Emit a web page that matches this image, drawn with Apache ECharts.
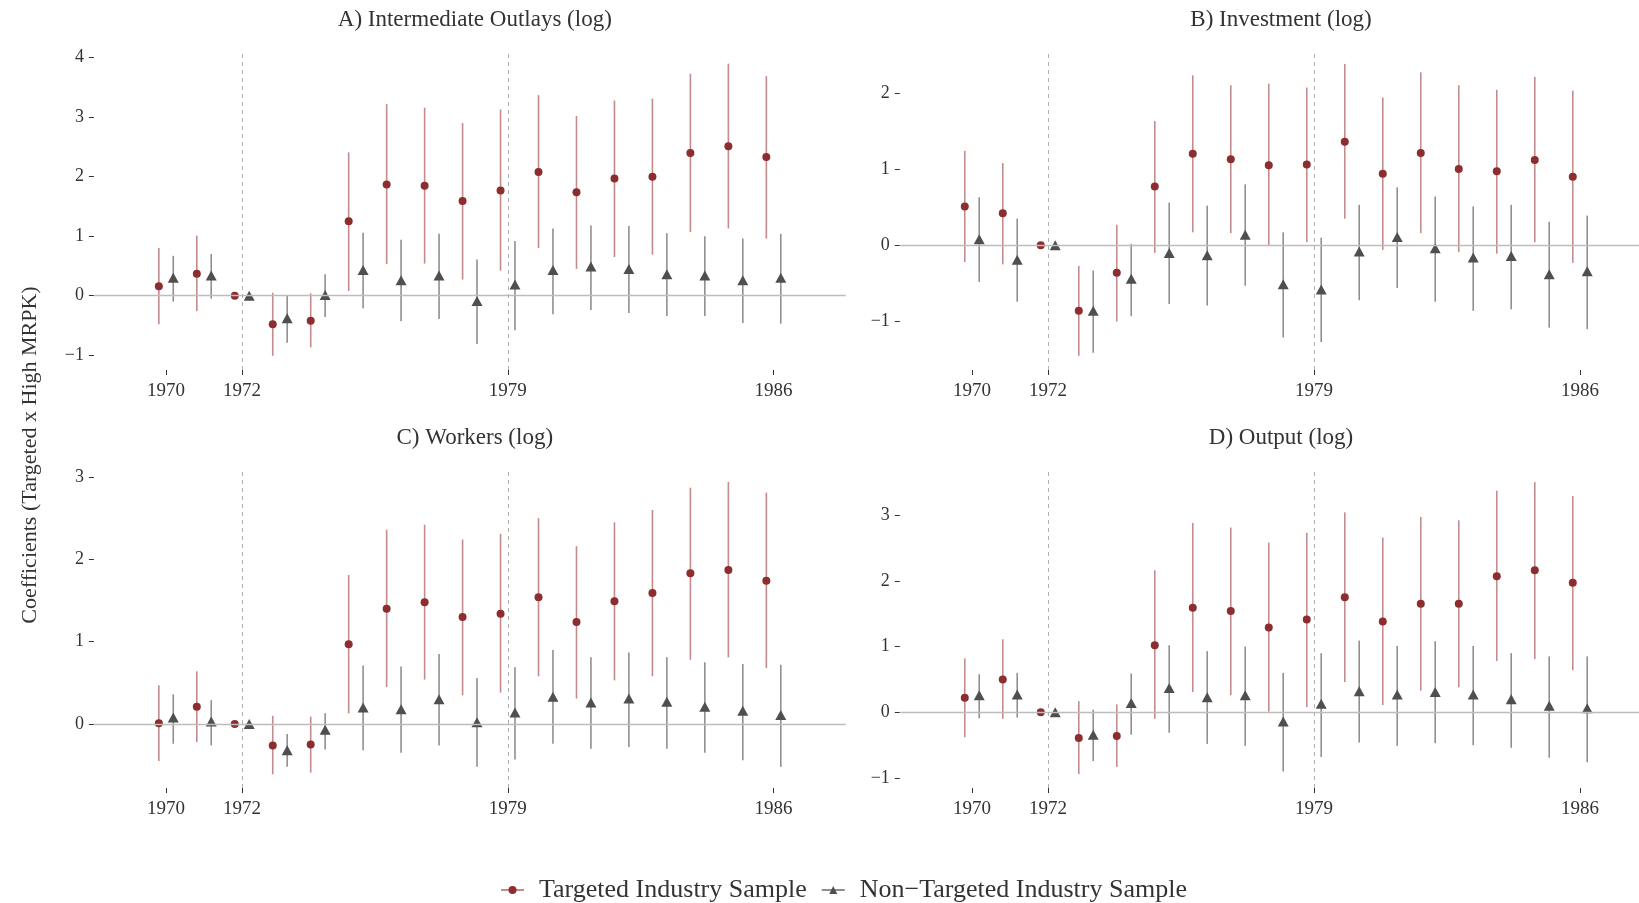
<!DOCTYPE html>
<html>
<head>
<meta charset="utf-8">
<script src="https://cdn.jsdelivr.net/npm/echarts@6/dist/echarts.min.js"></script>
<style>
html,body{margin:0;padding:0;background:#fff;}
#chart{width:1639px;height:903px;}
</style>
</head>
<body>
<div id="chart"></div>
<script>
const years = [1970,1971,1972,1973,1974,1975,1976,1977,1978,1979,1980,1981,1982,1983,1984,1985,1986];
const xTickYears = [1970, 1972, 1979, 1986];
const refYears = [1972, 1979];
const panelTitles = ['A) Intermediate Outlays (log)', 'B) Investment (log)', 'C) Workers (log)', 'D) Output (log)'];
const seriesNames = ['Targeted Industry Sample', 'Non\u2212Targeted Industry Sample'];
const yAxisTitle = 'Coefficients (Targeted x High MRPK)';

const yTicksA = [-1, 0, 1, 2, 3, 4];
const yTicksB = [-1, 0, 1, 2];
const yTicksC = [0, 1, 2, 3];
const yTicksD = [-1, 0, 1, 2, 3];

// Panel A: Intermediate Outlays
const aTargetEst = [0.16, 0.37, 0, -0.48, -0.42, 1.25, 1.87, 1.85, 1.59, 1.77, 2.08, 1.74, 1.97, 2.00, 2.40, 2.51, 2.33];
const aTargetLo  = [-0.48, -0.26, 0, -1.01, -0.87, 0.08, 0.53, 0.54, 0.27, 0.42, 0.80, 0.45, 0.65, 0.69, 1.07, 1.13, 0.96];
const aTargetHi  = [0.80, 1.01, 0, 0.05, 0.04, 2.41, 3.22, 3.16, 2.90, 3.13, 3.37, 3.02, 3.28, 3.31, 3.73, 3.90, 3.69];
const aOtherEst  = [0.30, 0.34, 0, -0.38, 0.01, 0.43, 0.26, 0.34, -0.09, 0.19, 0.43, 0.49, 0.45, 0.36, 0.34, 0.26, 0.30];
const aOtherLo   = [-0.10, -0.05, 0, -0.79, -0.36, -0.21, -0.43, -0.39, -0.81, -0.58, -0.31, -0.24, -0.29, -0.34, -0.34, -0.46, -0.47];
const aOtherHi   = [0.67, 0.70, 0, 0.00, 0.36, 1.06, 0.94, 1.04, 0.61, 0.92, 1.13, 1.18, 1.17, 1.05, 1.00, 0.96, 1.04];

// Panel B: Investment
const bTargetEst = [0.51, 0.42, 0, -0.86, -0.36, 0.77, 1.20, 1.13, 1.05, 1.06, 1.36, 0.94, 1.21, 1.00, 0.97, 1.12, 0.90];
const bTargetLo  = [-0.22, -0.25, 0, -1.45, -1.00, -0.10, 0.17, 0.16, -0.01, 0.04, 0.35, -0.06, 0.16, -0.09, -0.11, 0.04, -0.23];
const bTargetHi  = [1.24, 1.08, 0, -0.27, 0.27, 1.63, 2.23, 2.10, 2.12, 2.07, 2.38, 1.94, 2.27, 2.10, 2.04, 2.21, 2.03];
const bOtherEst  = [0.08, -0.19, 0, -0.86, -0.44, -0.10, -0.13, 0.14, -0.51, -0.58, -0.08, 0.11, -0.04, -0.16, -0.14, -0.38, -0.34];
const bOtherLo   = [-0.48, -0.74, 0, -1.41, -0.93, -0.77, -0.79, -0.53, -1.21, -1.27, -0.72, -0.56, -0.74, -0.86, -0.84, -1.08, -1.10];
const bOtherHi   = [0.63, 0.35, 0, -0.33, 0.02, 0.56, 0.52, 0.80, 0.17, 0.10, 0.53, 0.76, 0.64, 0.51, 0.53, 0.31, 0.39];

// Panel C: Workers
const cTargetEst = [0.01, 0.21, 0, -0.26, -0.25, 0.97, 1.40, 1.48, 1.30, 1.34, 1.54, 1.24, 1.49, 1.59, 1.83, 1.87, 1.74];
const cTargetLo  = [-0.45, -0.22, 0, -0.61, -0.59, 0.13, 0.45, 0.54, 0.35, 0.38, 0.58, 0.31, 0.53, 0.58, 0.78, 0.81, 0.68];
const cTargetHi  = [0.47, 0.64, 0, 0.10, 0.09, 1.81, 2.36, 2.42, 2.24, 2.31, 2.50, 2.16, 2.45, 2.60, 2.87, 2.94, 2.81];
const cOtherEst  = [0.08, 0.03, 0, -0.32, -0.07, 0.20, 0.18, 0.30, 0.02, 0.14, 0.33, 0.26, 0.31, 0.27, 0.21, 0.16, 0.11];
const cOtherLo   = [-0.24, -0.26, 0, -0.52, -0.31, -0.32, -0.35, -0.26, -0.52, -0.43, -0.24, -0.30, -0.28, -0.30, -0.35, -0.44, -0.52];
const cOtherHi   = [0.36, 0.29, 0, -0.12, 0.13, 0.71, 0.70, 0.85, 0.56, 0.69, 0.90, 0.81, 0.87, 0.81, 0.75, 0.73, 0.72];

// Panel D: Output
const dTargetEst = [0.22, 0.50, 0, -0.39, -0.36, 1.02, 1.59, 1.54, 1.29, 1.41, 1.75, 1.38, 1.65, 1.65, 2.07, 2.16, 1.97];
const dTargetLo  = [-0.38, -0.10, 0, -0.94, -0.83, -0.10, 0.31, 0.26, 0.01, 0.08, 0.46, 0.11, 0.33, 0.38, 0.78, 0.81, 0.64];
const dTargetHi  = [0.82, 1.11, 0, 0.17, 0.12, 2.16, 2.88, 2.81, 2.58, 2.73, 3.04, 2.66, 2.97, 2.92, 3.37, 3.50, 3.29];
const dOtherEst  = [0.26, 0.27, 0, -0.34, 0.14, 0.37, 0.23, 0.26, -0.14, 0.13, 0.32, 0.27, 0.31, 0.27, 0.20, 0.10, 0.06];
const dOtherLo   = [-0.09, -0.08, 0, -0.74, -0.34, -0.31, -0.48, -0.51, -0.90, -0.68, -0.46, -0.51, -0.47, -0.50, -0.54, -0.69, -0.76];
const dOtherHi   = [0.58, 0.60, 0, 0.04, 0.59, 1.02, 0.93, 1.00, 0.60, 0.90, 1.09, 1.01, 1.08, 1.01, 0.90, 0.85, 0.85];

// ---- styling / layout ----
const FONT = 'Liberation Serif';
const RED = '#8c2d2f', RED_BAR = '#c28b8c';
const GRAY = '#4f4f4f', GRAY_BAR = '#8f8f8f';
const DODGE = 0.19;
const TEXT = '#333333';

const panels = [
  {t: [aTargetEst, aTargetLo, aTargetHi], o: [aOtherEst, aOtherLo, aOtherHi], ticks: yTicksA, ymin: -1.249, ymax: 4.096,
   grid: {left: 93.9, width: 751.8, top: 52, height: 318}},
  {t: [bTargetEst, bTargetLo, bTargetHi], o: [bOtherEst, bOtherLo, bOtherHi], ticks: yTicksB, ymin: -1.636, ymax: 2.536,
   grid: {left: 899.8, width: 752.4, top: 52, height: 318}},
  {t: [cTargetEst, cTargetLo, cTargetHi], o: [cOtherEst, cOtherLo, cOtherHi], ticks: yTicksC, ymin: -0.777, ymax: 3.085,
   grid: {left: 93.9, width: 751.8, top: 470, height: 318}},
  {t: [dTargetEst, dTargetLo, dTargetHi], o: [dOtherEst, dOtherLo, dOtherHi], ticks: yTicksD, ymin: -1.151, ymax: 3.685,
   grid: {left: 899.8, width: 752.4, top: 470, height: 318}}
];

function fmtNum(v) { return v < 0 ? '\u2212' + Math.abs(v) : String(v); }

function errRender(color) {
  return function (params, api) {
    const x = api.value(0), lo = api.value(1), hi = api.value(2);
    if (lo === hi) return null;
    const p1 = api.coord([x, lo]), p2 = api.coord([x, hi]);
    return {type: 'line', shape: {x1: p1[0], y1: p1[1], x2: p2[0], y2: p2[1]},
            style: {stroke: color, lineWidth: 1.6}};
  };
}

const grids = [], xAxes = [], yAxes = [], series = [], titles = [];
panels.forEach((p, i) => {
  grids.push(Object.assign({containLabel: false, outerBoundsMode: 'none'}, p.grid));
  xAxes.push({
    type: 'value', gridIndex: i, min: 1968.1, max: 1987.9, position: 'bottom',
    axisLine: {show: false, onZero: false}, splitLine: {show: false},
    axisTick: {show: true, length: 5, lineStyle: {color: TEXT, width: 1}, customValues: xTickYears},
    axisLabel: {customValues: xTickYears, fontFamily: FONT, fontSize: 19, color: TEXT, margin: 12, formatter: v => String(v)}
  });
  yAxes.push({
    type: 'value', gridIndex: i, min: p.ymin, max: p.ymax,
    axisLine: {show: false, onZero: false}, splitLine: {show: false},
    axisTick: {show: true, length: 5, lineStyle: {color: TEXT, width: 1}, customValues: p.ticks},
    axisLabel: {customValues: p.ticks, fontFamily: FONT, fontSize: 18, color: TEXT, margin: 10, formatter: fmtNum}
  });
  titles.push({
    text: panelTitles[i], left: p.grid.left + p.grid.width / 2, textAlign: 'center',
    top: p.grid.top - 49,
    textStyle: {fontFamily: FONT, fontSize: 23, fontWeight: 'normal', color: TEXT}
  });
  // reference lines
  series.push({
    type: 'scatter', xAxisIndex: i, yAxisIndex: i, data: [], z: 1, silent: true,
    markLine: {
      silent: true, symbol: 'none', animation: false, label: {show: false},
      data: [
        {yAxis: 0, lineStyle: {color: '#bdbdbd', width: 1.3, type: 'solid'}},
        ...refYears.map(y => ({xAxis: y, lineStyle: {color: '#b0b0b0', width: 1, type: [4, 4]}}))
      ]
    }
  });
  // error bars
  series.push({
    type: 'custom', xAxisIndex: i, yAxisIndex: i, z: 2, clip: false,
    renderItem: errRender(RED_BAR), encode: {x: 0, y: [1, 2]},
    data: years.map((y, k) => [y - DODGE, p.t[1][k], p.t[2][k]])
  });
  series.push({
    type: 'custom', xAxisIndex: i, yAxisIndex: i, z: 2, clip: false,
    renderItem: errRender(GRAY_BAR), encode: {x: 0, y: [1, 2]},
    data: years.map((y, k) => [y + DODGE, p.o[1][k], p.o[2][k]])
  });
  // points
  series.push({
    type: 'scatter', name: 'pt-t-' + i, xAxisIndex: i, yAxisIndex: i, z: 3,
    symbol: 'circle', symbolSize: 8, itemStyle: {color: RED, opacity: 1},
    data: years.map((y, k) => [y - DODGE, p.t[0][k]])
  });
  series.push({
    type: 'scatter', name: 'pt-o-' + i, xAxisIndex: i, yAxisIndex: i, z: 3,
    symbol: 'triangle', symbolSize: [11, 10], itemStyle: {color: GRAY, opacity: 1},
    data: years.map((y, k) => [y + DODGE, p.o[0][k]])
  });
});

// legend-only series
series.push({type: 'line', name: seriesNames[0], xAxisIndex: 0, yAxisIndex: 0, data: [],
  symbol: 'circle', symbolSize: 7, itemStyle: {color: RED}, lineStyle: {color: RED_BAR, width: 2}});
series.push({type: 'line', name: seriesNames[1], xAxisIndex: 0, yAxisIndex: 0, data: [],
  symbol: 'triangle', symbolSize: [10, 9], itemStyle: {color: GRAY}, lineStyle: {color: GRAY_BAR, width: 2}});

const chart = echarts.init(document.getElementById('chart'), null, {renderer: 'canvas'});
chart.setOption({
  animation: false,
  backgroundColor: '#ffffff',
  title: titles,
  grid: grids,
  xAxis: xAxes,
  yAxis: yAxes,
  legend: {
    data: seriesNames, left: 495, top: 872, orient: 'horizontal',
    itemWidth: 23, itemHeight: 10, itemGap: 14,
    textStyle: {fontFamily: FONT, fontSize: 26, color: TEXT, padding: [0, 0, 0, 10]}
  },
  graphic: [{
    type: 'text', x: 30, y: 455, rotation: Math.PI / 2,
    style: {text: yAxisTitle, font: '22px "' + FONT + '"', fill: TEXT, textAlign: 'center', textVerticalAlign: 'middle'}
  }],
  series: series
});
</script>
</body>
</html>
